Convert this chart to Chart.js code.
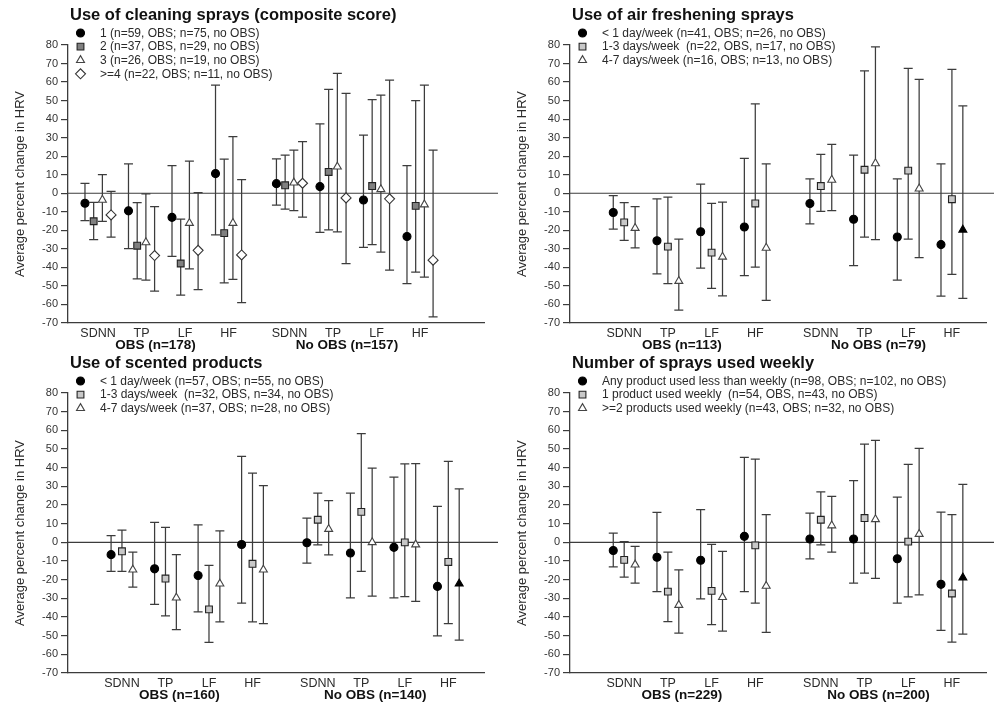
<!DOCTYPE html>
<html><head><meta charset="utf-8">
<script src="https://cdn.jsdelivr.net/npm/chart.js@4.4.1/dist/chart.umd.min.js"></script>
<style>
html,body{margin:0;padding:0;background:#fff;width:994px;height:704px;overflow:hidden}
canvas{position:absolute}
</style></head><body>
<canvas id="c1" width="500" height="358" style="left:0;top:0"></canvas>
<canvas id="c2" width="492" height="358" style="left:502px;top:0"></canvas>
<canvas id="c3" width="500" height="355" style="left:0;top:349px"></canvas>
<canvas id="c4" width="492" height="355" style="left:502px;top:349px"></canvas>
<script>
// ---------- categories & labels ----------
const categories = ['SDNN','TP','LF','HF','SDNN','TP','LF','HF'];
const yTitle = 'Average percent change in HRV';

// ---------- Panel 1: Use of cleaning sprays (composite score) ----------
const cleaningTitle = 'Use of cleaning sprays (composite score)';
const cleaningGroups = ['OBS (n=178)', 'No OBS (n=157)'];
const cleaningLabels = ['1 (n=59, OBS; n=75, no OBS)', '2 (n=37, OBS, n=29, no OBS)', '3 (n=26, OBS; n=19, no OBS)', '>=4 (n=22, OBS; n=11, no OBS)'];
const cleaning1Est = [-5.4, -9.5, -13.0, 10.6, 5.2, 3.6, -3.6, -23.3];
const cleaning1Lo  = [-14.7, -29.9, -34.0, -22.5, -6.4, -21.1, -29.2, -48.8];
const cleaning1Hi  = [5.3, 15.8, 14.9, 58.4, 18.5, 37.4, 31.4, 14.9];
const cleaning2Est = [-15.1, -28.3, -37.9, -21.5, 4.3, 11.5, 3.9, -6.8];
const cleaning2Lo  = [-25.0, -46.2, -54.9, -48.3, -8.6, -19.7, -27.7, -42.6];
const cleaning2Hi  = [-4.9, -5.0, -14.0, 18.4, 20.6, 56.0, 50.5, 50.0];
const cleaning3Est = [-3.6, -26.5, -16.1, -16.1, 5.7, 14.3, 2.1, -6.1];
const cleaning3Lo  = [-15.2, -46.9, -40.8, -46.5, -9.3, -20.8, -31.8, -45.3];
const cleaning3Hi  = [10.0, -0.3, 17.4, 30.5, 23.3, 64.7, 53.0, 58.4];
const cleaning4Est = [-11.7, -33.6, -30.8, -33.3, 5.4, -2.5, -3.0, -36.1];
const cleaning4Lo  = [-23.6, -52.8, -52.0, -59.0, -12.9, -37.9, -41.5, -66.7];
const cleaning4Hi  = [1.0, -7.2, 0.3, 7.3, 27.8, 53.9, 61.1, 23.3];

// ---------- Panel 2: Use of air freshening sprays ----------
const airTitle = 'Use of air freshening sprays';
const airGroups = ['OBS (n=113)', 'No OBS (n=79)'];
const airLabels = ['< 1 day/week (n=41, OBS; n=26, no OBS)', '1-3 days/week  (n=22, OBS, n=17, no OBS)', '4-7 days/week (n=16, OBS; n=13, no OBS)'];
const air1Est = [-10.4, -25.6, -20.8, -18.2, -5.5, -14.0, -23.6, -27.7];
const air1Lo  = [-19.3, -43.5, -40.4, -44.4, -16.5, -39.0, -46.9, -55.5];
const air1Hi  = [-1.3, -3.0, 5.0, 18.8, 7.7, 20.6, 7.7, 15.8];
const air2Est = [-15.7, -28.8, -32.0, -5.5, 3.9, 12.7, 12.2, -3.2];
const air2Lo  = [-25.4, -48.8, -51.3, -39.9, -9.8, -23.6, -24.7, -43.8];
const air2Hi  = [-5.0, -2.1, -5.4, 48.2, 21.0, 66.0, 67.4, 66.9];
const air3Est = [-18.8, -47.4, -34.3, -29.5, 7.2, 16.1, 2.5, -19.7];
const air3Lo  = [-29.5, -63.0, -55.3, -57.8, -9.3, -25.0, -34.7, -56.7];
const air3Hi  = [-7.2, -24.7, -4.8, 15.8, 26.4, 79.0, 61.5, 47.1];

// ---------- Panel 3: Use of scented products ----------
const scentTitle = 'Use of scented products';
const scentGroups = ['OBS (n=160)', 'No OBS (n=140)'];
const scentLabels = ['< 1 day/week (n=57, OBS; n=55, no OBS)', '1-3 days/week  (n=32, OBS, n=34, no OBS)', '4-7 days/week (n=37, OBS; n=28, no OBS)'];
const scent1Est = [-6.6, -14.2, -17.8, -1.2, -0.2, -5.7, -2.7, -23.6];
const scent1Lo  = [-15.6, -33.2, -37.3, -32.5, -11.2, -29.7, -29.7, -50.1];
const scent1Hi  = [3.6, 10.7, 9.4, 46.1, 13.0, 26.4, 35.0, 19.3];
const scent2Est = [-4.8, -19.4, -35.9, -11.5, 12.1, 16.3, 0.0, -10.5];
const scent2Lo  = [-15.6, -39.4, -53.6, -42.6, -1.4, -15.6, -29.1, -43.5];
const scent2Hi  = [6.6, 8.0, -12.4, 37.1, 26.4, 58.2, 42.0, 43.4];
const scent3Est = [-14.7, -29.7, -22.2, -14.7, 7.1, 0.0, -1.2, -22.2];
const scent3Lo  = [-24.0, -46.7, -42.6, -43.5, -6.7, -28.8, -31.6, -52.4];
const scent3Hi  = [-5.3, -6.6, 6.2, 30.4, 22.3, 39.8, 42.1, 28.6];

// ---------- Panel 4: Number of sprays used weekly ----------
const numTitle = 'Number of sprays used weekly';
const numGroups = ['OBS (n=229)', 'No OBS (n=200)'];
const numLabels = ['Any product used less than weekly (n=98, OBS; n=102, no OBS)', '1 product used weekly  (n=54, OBS, n=43, no OBS)', '>=2 products used weekly (n=43, OBS; n=32, no OBS)'];
const num1Est = [-4.4, -8.0, -9.6, 3.2, 1.8, 1.8, -8.8, -22.5];
const num1Lo  = [-13.1, -26.4, -30.3, -26.4, -8.8, -21.8, -32.6, -47.1];
const num1Hi  = [5.0, 16.0, 17.5, 45.5, 15.7, 33.0, 24.2, 16.2];
const num2Est = [-9.4, -26.4, -26.0, -1.6, 12.1, 13.0, 0.4, -27.4];
const num2Lo  = [-18.6, -42.5, -44.1, -32.6, -1.4, -16.5, -29.2, -53.5];
const num2Hi  = [0.4, -5.3, -1.1, 44.6, 27.0, 52.6, 41.8, 14.8];
const num3Est = [-12.0, -33.6, -29.4, -23.4, 9.0, 12.3, 4.4, -18.9];
const num3Lo  = [-21.8, -48.7, -47.6, -48.3, -5.3, -19.3, -28.1, -49.2];
const num3Hi  = [-2.1, -14.7, -4.8, 14.8, 24.6, 54.6, 50.3, 31.1];

// ---------- styling ----------
Chart.defaults.font.family = "'Liberation Sans', Arial, Helvetica, sans-serif";
const INK = '#2a2a2a';
const LINE = '#3c3c3c';

function styleCircle(){ return {pointStyle:'circle', radius:4, fill:'#000', border:'#000'}; }
function styleSquare(fill){ return {pointStyle:'rect', radius:4.8, fill:fill, border:'#222'}; }
function styleTri(){ return {pointStyle:'triangle', radius:4.6, fill:'#fff', border:'#444'}; }
function styleDiamond(){ return {pointStyle:'rectRot', radius:5, fill:'#fff', border:'#333'}; }

function drawMarker(ctx, st, fill, x, y) {
  ctx.save();
  ctx.fillStyle = fill; ctx.strokeStyle = st.border; ctx.lineWidth = 1.1;
  if (Chart.helpers && Chart.helpers.drawPoint) {
    Chart.helpers.drawPoint(ctx, {pointStyle: st.pointStyle, radius: st.radius, rotation: 0, borderWidth: 1.1}, x, y);
  }
  ctx.restore();
}

const panelPlugin = {
  id: 'panelDecor',
  beforeDatasetsDraw(chart) {
    const cfg = chart.options.plugins.panelDecor;
    const ctx = chart.ctx, ys = chart.scales.y, area = chart.chartArea;
    ctx.save();
    // zero reference line
    const y0 = ys.getPixelForValue(0);
    ctx.strokeStyle = LINE; ctx.lineWidth = 1.2;
    ctx.beginPath(); ctx.moveTo(area.left, y0); ctx.lineTo(chart.width - cfg.zeroEnd, y0); ctx.stroke();
    // error bars
    ctx.strokeStyle = LINE; ctx.lineWidth = 1.25;
    chart.data.datasets.forEach((ds, di) => {
      const meta = chart.getDatasetMeta(di);
      meta.data.forEach((pt, i) => {
        const x = pt.x;
        const yl = ys.getPixelForValue(ds.lo[i]);
        const yh = ys.getPixelForValue(ds.hi[i]);
        ctx.beginPath();
        ctx.moveTo(x, yl); ctx.lineTo(x, yh);
        ctx.moveTo(x - 4.5, yl); ctx.lineTo(x + 4.5, yl);
        ctx.moveTo(x - 4.5, yh); ctx.lineTo(x + 4.5, yh);
        ctx.stroke();
      });
    });
    ctx.restore();
  },
  afterDraw(chart) {
    const cfg = chart.options.plugins.panelDecor;
    const ctx = chart.ctx, xs = chart.scales.x, area = chart.chartArea;
    ctx.save();
    // title
    ctx.fillStyle = '#111';
    ctx.textBaseline = 'middle'; ctx.textAlign = 'left';
    ctx.font = "bold 16.5px 'Liberation Sans', Arial, sans-serif";
    ctx.fillText(cfg.title, area.left + 2, area.top - 30);
    // legend
    ctx.font = "12px 'Liberation Sans', Arial, sans-serif";
    ctx.fillStyle = INK;
    chart.data.datasets.forEach((ds, i) => {
      const y = area.top - 12 + i * 13.6;
      drawMarker(ctx, ds.markerStyle, ds.markerStyle.fill, area.left + 12.5, y);
      ctx.fillStyle = INK;
      ctx.fillText(ds.label, area.left + 32, y + 0.5);
    });
    // group labels
    ctx.font = "bold 13.5px 'Liberation Sans', Arial, sans-serif";
    ctx.textAlign = 'center';
    ctx.fillStyle = '#111';
    cfg.groups.forEach((g, gi) => {
      const pos = cfg.catPos.slice(gi * 4, gi * 4 + 4);
      const c = pos.reduce((a, b) => a + b, 0) / pos.length - 0.18;
      ctx.fillText(g, xs.getPixelForValue(c), area.bottom + 22);
    });
    ctx.restore();
  }
};

function makePanel(id, cfg) {
  const catPos = categories.map((c, i) => i + 1 + (i >= 4 ? cfg.gap : 0));
  const datasets = cfg.series.map((s, si) => ({
    label: s.label,
    data: s.est.map((v, i) => ({x: catPos[i] + cfg.offsets[si], y: v})),
    lo: s.lo, hi: s.hi,
    markerStyle: s.style,
    pointStyle: s.style.pointStyle,
    pointRadius: s.style.radius,
    pointHoverRadius: s.style.radius,
    pointBackgroundColor: s.est.map((v, i) => (s.filledLast && i === s.est.length - 1) ? '#000' : s.style.fill),
    pointBorderColor: s.est.map((v, i) => (s.filledLast && i === s.est.length - 1) ? '#000' : s.style.border),
    pointBorderWidth: 1.1,
    showLine: false
  }));
  new Chart(document.getElementById(id), {
    type: 'scatter',
    data: {datasets},
    plugins: [panelPlugin],
    options: {
      responsive: false, animation: false, events: [],
      layout: {padding: {top: cfg.padTop, right: cfg.padRight, bottom: cfg.padBottom, left: 0}},
      plugins: {
        legend: {display: false}, tooltip: {enabled: false}, title: {display: false},
        panelDecor: {title: cfg.title, groups: cfg.groups, catPos: catPos, zeroEnd: cfg.zeroEnd}
      },
      scales: {
        x: {
          type: 'linear', min: cfg.xMin, max: cfg.xMax,
          afterBuildTicks: ax => { ax.ticks = catPos.map(v => ({value: v})); },
          afterFit: sc => { sc.height = 27; },
          grid: {display: false, drawTicks: false},
          border: {display: true, color: LINE, width: 1.3},
          ticks: {autoSkip: false, maxRotation: 0, padding: 3, color: INK, font: {size: 12.5},
                  callback: (v, i) => categories[i]}
        },
        y: {
          min: -70, max: 80,
          afterFit: sc => { sc.width = 68; },
          ticks: {stepSize: 10, color: '#333', font: {size: 11}, padding: 3},
          grid: {drawOnChartArea: false, drawTicks: true, tickLength: 7, color: LINE, lineWidth: 1.2},
          border: {display: true, color: LINE, width: 1.3},
          title: {display: true, text: yTitle, color: INK, font: {size: 13}, padding: {top: 13, bottom: 0}}
        }
      }
    }
  });
}

makePanel('c1', {
  title: cleaningTitle, groups: cleaningGroups, gap: 0.4, offsets: [-0.3, -0.1, 0.1, 0.3],
  xMin: 0.31, xMax: 9.87, padTop: 45, padRight: 16, padBottom: 8, zeroEnd: 2,
  series: [
    {label: cleaningLabels[0], est: cleaning1Est, lo: cleaning1Lo, hi: cleaning1Hi, style: styleCircle()},
    {label: cleaningLabels[1], est: cleaning2Est, lo: cleaning2Lo, hi: cleaning2Hi, style: styleSquare('#808080')},
    {label: cleaningLabels[2], est: cleaning3Est, lo: cleaning3Lo, hi: cleaning3Hi, style: styleTri()},
    {label: cleaningLabels[3], est: cleaning4Est, lo: cleaning4Lo, hi: cleaning4Hi, style: styleDiamond()}
  ]
});
makePanel('c2', {
  title: airTitle, groups: airGroups, gap: 0.5, offsets: [-0.25, 0, 0.25],
  xMin: -0.24, xMax: 9.28, padTop: 45, padRight: 8, padBottom: 8, zeroEnd: 0,
  series: [
    {label: airLabels[0], est: air1Est, lo: air1Lo, hi: air1Hi, style: styleCircle()},
    {label: airLabels[1], est: air2Est, lo: air2Lo, hi: air2Hi, style: styleSquare('#c8c8c8')},
    {label: airLabels[2], est: air3Est, lo: air3Lo, hi: air3Hi, style: styleTri(), filledLast: true}
  ]
});
makePanel('c3', {
  title: scentTitle, groups: scentGroups, gap: 0.5, offsets: [-0.25, 0, 0.25],
  xMin: -0.24, xMax: 9.32, padTop: 44, padRight: 16, padBottom: 4, zeroEnd: 2,
  series: [
    {label: scentLabels[0], est: scent1Est, lo: scent1Lo, hi: scent1Hi, style: styleCircle()},
    {label: scentLabels[1], est: scent2Est, lo: scent2Lo, hi: scent2Hi, style: styleSquare('#c8c8c8')},
    {label: scentLabels[2], est: scent3Est, lo: scent3Lo, hi: scent3Hi, style: styleTri(), filledLast: true}
  ]
});
makePanel('c4', {
  title: numTitle, groups: numGroups, gap: 0.5, offsets: [-0.25, 0, 0.25],
  xMin: -0.24, xMax: 9.28, padTop: 44, padRight: 8, padBottom: 4, zeroEnd: 0,
  series: [
    {label: numLabels[0], est: num1Est, lo: num1Lo, hi: num1Hi, style: styleCircle()},
    {label: numLabels[1], est: num2Est, lo: num2Lo, hi: num2Hi, style: styleSquare('#c8c8c8')},
    {label: numLabels[2], est: num3Est, lo: num3Lo, hi: num3Hi, style: styleTri(), filledLast: true}
  ]
});
</script>
</body></html>
